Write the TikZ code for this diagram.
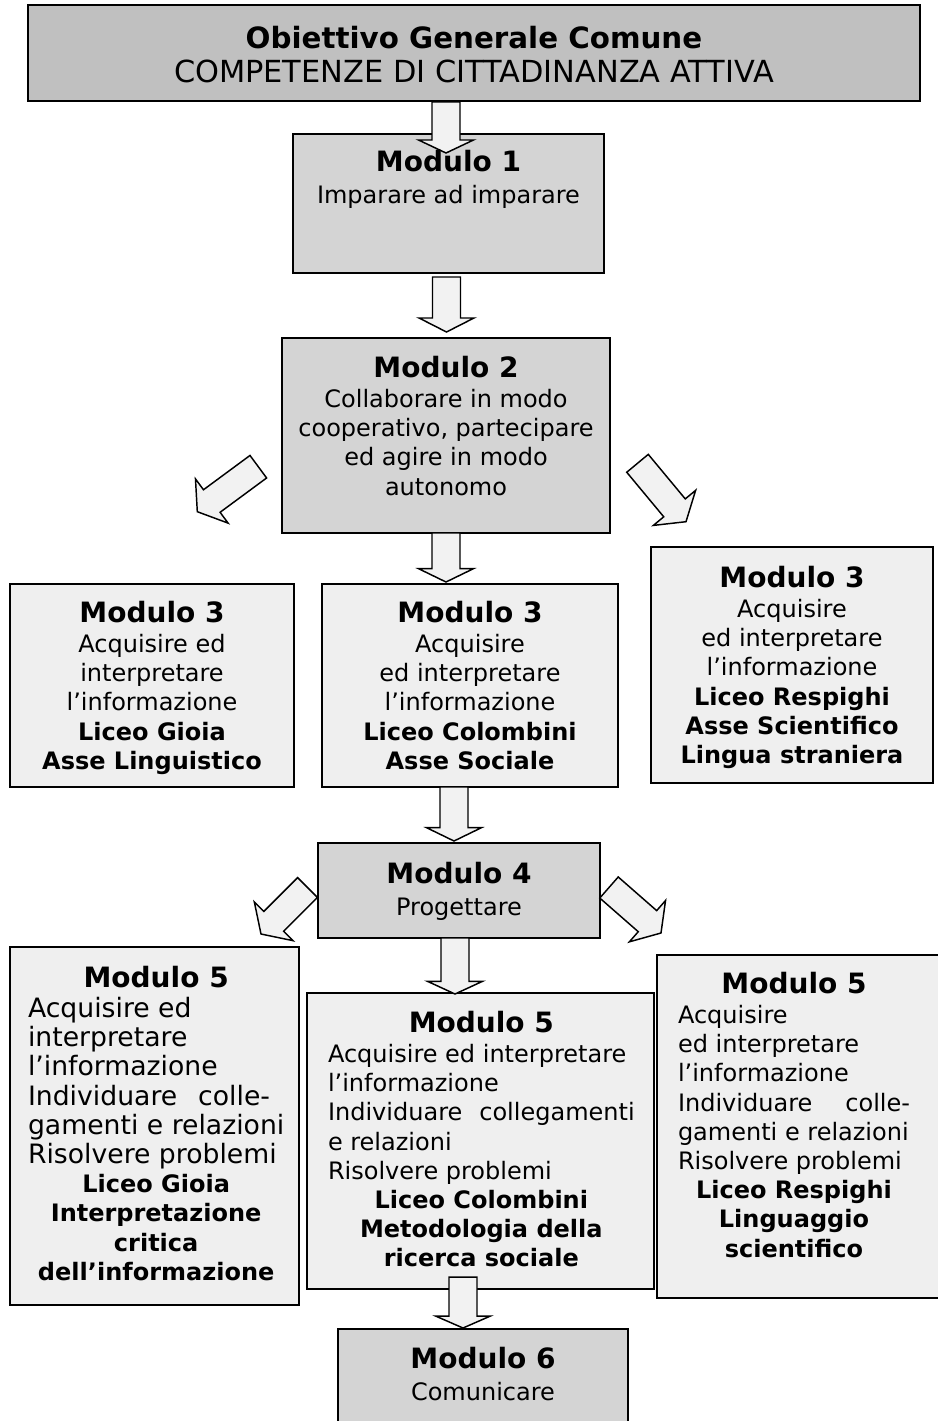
\documentclass[tikz,border=0pt]{standalone}
\usepackage{fontspec}
\setmainfont{DejaVu Sans}
\usetikzlibrary{calc}
\definecolor{topgray}{HTML}{C0C0C0}
\definecolor{midgray}{HTML}{D4D4D4}
\definecolor{palegray}{HTML}{EFEFEF}
\definecolor{arrowfill}{HTML}{F2F2F2}
\newcommand{\ttl}[1]{{\fontsize{21}{25}\selectfont\bfseries #1}}
\newcommand{\bl}[1]{{\fontsize{18}{21.9}\selectfont\bfseries #1}}
\newcommand{\boxnode}[6]{%
  \pgfmathsetmacro\myBW{0.75*(#4-#2)}%
  \pgfmathsetmacro\myBH{0.75*(#5-#3)}%
  \node[boxstyle, fill=#6, minimum width=\myBW pt, minimum height=\myBH pt] (#1) at ({(#2+#4)/2},{(#3+#5)/2}) {};}
\newcommand{\blockarrow}[3]{%
  \coordinate (hb) at ($(#2)!#3!(#1)$);
  \draw[arrowstyle] ($(#1)!10.5pt!90:(#2)$) -- ($(hb)!10.5pt!-90:(#1)$) -- ($(hb)!20.6pt!-90:(#1)$) -- (#2)
     -- ($(hb)!20.6pt!90:(#1)$) -- ($(hb)!10.5pt!90:(#1)$) -- ($(#1)!10.5pt!-90:(#2)$) -- cycle;}
\begin{document}
\begin{tikzpicture}[x=0.75pt,y=-0.75pt,
  boxstyle/.style={draw=black, line width=1.1pt, rectangle, inner sep=0pt, outer sep=0pt},
  arrowstyle/.style={draw=black, line width=1.1pt, fill=arrowfill, line join=miter},
  txt/.style={inner sep=0pt, outer sep=0pt, font=\fontsize{18}{21.9}\selectfont}]
\fill[white] (0,0) rectangle (938,1421);
\useasboundingbox (0,0) rectangle (938,1421);

% boxes
\boxnode{top}{28}{5}{920}{101}{topgray}
\boxnode{m1}{293}{134}{604}{273}{midgray}
\boxnode{m2}{282}{338}{610}{533}{midgray}
\boxnode{m3l}{10}{584}{294}{787}{palegray}
\boxnode{m3c}{322}{584}{618}{787}{palegray}
\boxnode{m3r}{651}{547}{933}{783}{palegray}
\boxnode{m4}{318}{843}{600}{938}{midgray}
\boxnode{m5l}{10}{947}{299}{1305}{palegray}
\boxnode{m5c}{307}{993}{654}{1289}{palegray}
\boxnode{m5r}{657}{955}{943}{1298}{palegray}
\boxnode{m6}{338}{1329}{628}{1430}{midgray}

% arrow end points
\coordinate (a1s) at (446,102);   \coordinate (a1e) at (446,153);
\coordinate (a2s) at (446.5,277); \coordinate (a2e) at (446.5,332);
\coordinate (a3s) at (258.3,466.7); \coordinate (a3e) at (197.3,511.7);
\coordinate (a4s) at (637.5,463.3); \coordinate (a4e) at (686,521.7);
\coordinate (a5s) at (446,533);   \coordinate (a5e) at (446,582);
\coordinate (a6s) at (454,787);   \coordinate (a6e) at (454,841);
\coordinate (a7s) at (307.5,887.5); \coordinate (a7e) at (261,934);
\coordinate (a8s) at (609,887.5); \coordinate (a8e) at (661,933);
\coordinate (a9s) at (455,938);   \coordinate (a9e) at (455,994);
\coordinate (a10s) at (463,1277); \coordinate (a10e) at (463,1328);

\blockarrow{a1s}{a1e}{9.75pt}
\blockarrow{a2s}{a2e}{10.5pt}
\blockarrow{a3s}{a3e}{13.5pt}
\blockarrow{a4s}{a4e}{13.5pt}
\blockarrow{a5s}{a5e}{10pt}
\blockarrow{a6s}{a6e}{10pt}
\blockarrow{a7s}{a7e}{13.5pt}
\blockarrow{a8s}{a8e}{13.5pt}
\blockarrow{a9s}{a9e}{9.5pt}
\blockarrow{a10s}{a10e}{9pt}

% texts
\node[txt, anchor=base, font=\fontsize{22.8}{25.5}\selectfont] (topt) at (474,48.5)
  {\begin{tabular}[t]{@{}c@{}}{\fontsize{22}{25.5}\selectfont\bfseries Obiettivo Generale Comune}\\ COMPETENZE DI CITTADINANZA ATTIVA\end{tabular}};

\node[txt, anchor=base] (m1t) at (448.5,171)
  {\begin{tabular}[t]{@{}c@{}}\ttl{Modulo 1}\\[2.8pt] Imparare ad imparare\end{tabular}};

\node[txt, anchor=base] (m2t) at (446,377)
  {\begin{tabular}[t]{@{}c@{}}\ttl{Modulo 2}\\[1pt] Collaborare in modo\\ cooperativo, partecipare\\ ed agire in modo\\ autonomo\end{tabular}};

\node[txt, anchor=base] (m3lt) at (152,622)
  {\begin{tabular}[t]{@{}c@{}}\ttl{Modulo 3}\\[1pt] Acquisire ed\\ interpretare\\ l’informazione\\ \bl{Liceo Gioia}\\ \bl{Asse Linguistico}\end{tabular}};

\node[txt, anchor=base] (m3ct) at (470,622)
  {\begin{tabular}[t]{@{}c@{}}\ttl{Modulo 3}\\[1pt] Acquisire\\ ed interpretare\\ l’informazione\\ \bl{Liceo Colombini}\\ \bl{Asse Sociale}\end{tabular}};

\node[txt, anchor=base] (m3rt) at (792,587)
  {\begin{tabular}[t]{@{}c@{}}\ttl{Modulo 3}\\[1pt] Acquisire\\ ed interpretare\\ l’informazione\\ \bl{Liceo Respighi}\\ \bl{Asse Scientifico}\\ \bl{Lingua straniera}\end{tabular}};

\node[txt, anchor=base] (m4t) at (459,883)
  {\begin{tabular}[t]{@{}c@{}}\ttl{Modulo 4}\\[2.8pt] Progettare\end{tabular}};

\node[txt, anchor=base west, font=\fontsize{20}{21.9}\selectfont] (m5lt) at (28,987)
  {\begin{tabular}[t]{@{}l@{}}\multicolumn{1}{@{}c@{}}{\ttl{Modulo 5}}\\[1pt] Acquisire ed\\ interpretare\\ l’informazione\\
   \makebox[181.5pt][s]{Individuare colle-}\\ gamenti e relazioni\\ Risolvere problemi\\
   \multicolumn{1}{@{}c@{}}{\bl{Liceo Gioia}}\\ \multicolumn{1}{@{}c@{}}{\bl{Interpretazione}}\\
   \multicolumn{1}{@{}c@{}}{\bl{critica}}\\ \multicolumn{1}{@{}c@{}}{\bl{dell’informazione}}\end{tabular}};

\node[txt, anchor=base west] (m5ct) at (328,1032)
  {\begin{tabular}[t]{@{}l@{}}\multicolumn{1}{@{}c@{}}{\ttl{Modulo 5}}\\[1pt] Acquisire ed interpretare\\ l’informazione\\
   \makebox[230pt][s]{Individuare collegamenti}\\ e relazioni\\ Risolvere problemi\\
   \multicolumn{1}{@{}c@{}}{\bl{Liceo Colombini}}\\ \multicolumn{1}{@{}c@{}}{\bl{Metodologia della}}\\
   \multicolumn{1}{@{}c@{}}{\bl{ricerca sociale}}\end{tabular}};

\node[txt, anchor=base west] (m5rt) at (678,993)
  {\begin{tabular}[t]{@{}l@{}}\multicolumn{1}{@{}c@{}}{\ttl{Modulo 5}}\\[1pt] Acquisire\\ ed interpretare\\ l’informazione\\
   \makebox[174pt][s]{Individuare colle-}\\ gamenti e relazioni\\ Risolvere problemi\\
   \multicolumn{1}{@{}c@{}}{\bl{Liceo Respighi}}\\ \multicolumn{1}{@{}c@{}}{\bl{Linguaggio}}\\
   \multicolumn{1}{@{}c@{}}{\bl{scientifico}}\end{tabular}};

\node[txt, anchor=base] (m6t) at (483,1368)
  {\begin{tabular}[t]{@{}c@{}}\ttl{Modulo 6}\\[2.8pt] Comunicare\end{tabular}};
\end{tikzpicture}
\end{document}
